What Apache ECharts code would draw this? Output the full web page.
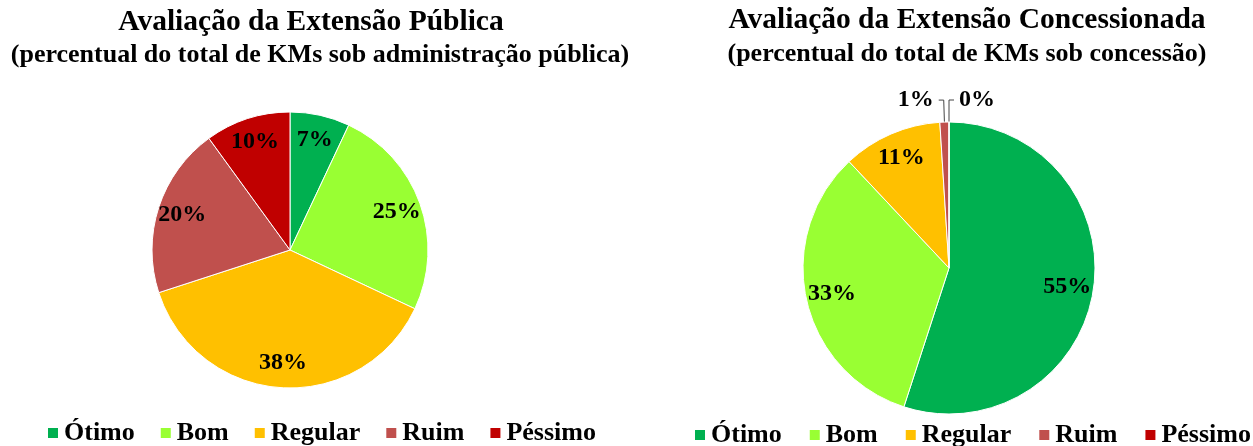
<!DOCTYPE html>
<html>
<head>
<meta charset="utf-8">
<title>Avaliação da Extensão</title>
<script src="https://cdn.jsdelivr.net/npm/echarts@6/dist/echarts.min.js"></script>
<style>
  html, body { margin: 0; padding: 0; background: #fff; }
  #chart { width: 1253px; height: 446px; }
</style>
</head>
<body>
<div id="chart"></div>
<script>
// categorias e valores (percentual)
var categories = ['Ótimo', 'Bom', 'Regular', 'Ruim', 'Péssimo'];
var colors = ['#00B050', '#99FF33', '#FFC000', '#C0504D', '#C00000'];
var publicaValues = [7, 25, 38, 20, 10];
var concessaoValues = [55, 33, 11, 1, 0];

var FONT = 'Liberation Serif';

function pct(p){
  return Math.round(p.value) + '%';
}

// fatia principal (cor) - rótulos fora só nas fatias pequenas
function mainSeries(values, center, radius){
  return {
    type: 'pie',
    center: center,
    radius: [0, radius],
    startAngle: 90,
    clockwise: true,
    avoidLabelOverlap: false,
    itemStyle: { borderColor: '#fff', borderWidth: 1 },
    emphasis: { disabled: true },
    label: { show: false },
    labelLine: { show: false },
    // fatia zero fica no topo: joga o rótulo para a direita (espelha no centro)
    labelLayout: function(p){
      if(values[p.dataIndex] !== 0 || !p.labelLinePoints) return {};
      var cx = center[0];
      var pts = p.labelLinePoints.map(function(q){ return [2 * cx - q[0], q[1]]; });
      return {
        x: 2 * cx - (p.labelRect.x + p.labelRect.width),
        y: p.labelRect.y + p.labelRect.height / 2,
        align: 'left',
        verticalAlign: 'middle',
        labelLinePoints: pts
      };
    },
    data: values.map(function(v, i){
      var item = { name: categories[i], value: v, itemStyle: { color: colors[i] } };
      if(v < 3){
        item.label = {
          show: true, position: 'outside', formatter: pct,
          fontFamily: FONT, fontWeight: 'bold', fontSize: 24, color: '#000'
        };
        item.labelLine = { show: true, length: 22, length2: 5, lineStyle: { color: '#444', width: 1 } };
      }
      return item;
    })
  };
}

// anel transparente só para posicionar os rótulos internos a ~80% do raio
function labelSeries(values, center, radius){
  return {
    type: 'pie',
    center: center,
    radius: [radius * 0.6, radius],
    startAngle: 90,
    clockwise: true,
    silent: true,
    avoidLabelOverlap: false,
    itemStyle: { color: 'transparent' },
    label: {
      show: true, position: 'inside', formatter: pct,
      fontFamily: FONT, fontWeight: 'bold', fontSize: 24, color: '#000'
    },
    labelLine: { show: false },
    data: values.map(function(v, i){
      var item = { name: categories[i], value: v };
      if(v < 3){
        item.label = { show: false };
      }
      return item;
    })
  };
}

var chart = echarts.init(document.getElementById('chart'));

var titleStyle = { fontFamily: FONT, fontWeight: 'bold', fontSize: 29.5, color: '#000' };
var subStyle = { fontFamily: FONT, fontWeight: 'bold', fontSize: 26, color: '#000' };
var legendText = { fontFamily: FONT, fontWeight: 'bold', fontSize: 26, color: '#000' };

chart.setOption({
  animation: false,
  title: [{
    text: 'Avaliação da Extensão Pública',
    left: 311, top: 7, textAlign: 'center', padding: 0,
    textStyle: titleStyle
  }, {
    text: '(percentual do total de KMs sob administração pública)',
    left: 320, top: 42, textAlign: 'center', padding: 0,
    textStyle: subStyle
  }, {
    text: 'Avaliação da Extensão Concessionada',
    left: 967, top: 5, textAlign: 'center', padding: 0,
    textStyle: titleStyle
  }, {
    text: '(percentual do total de KMs sob concessão)',
    left: 967, top: 41, textAlign: 'center', padding: 0,
    textStyle: subStyle
  }],
  legend: [{
    data: categories,
    left: 46, top: 420,
    padding: 0,
    icon: 'rect',
    itemWidth: 12, itemHeight: 12, itemGap: 24,
    selectedMode: false,
    textStyle: legendText
  }, {
    data: categories,
    left: 693, top: 422,
    padding: 0,
    icon: 'rect',
    itemWidth: 12, itemHeight: 12, itemGap: 26,
    selectedMode: false,
    textStyle: legendText
  }],
  series: [
    mainSeries(publicaValues, [290, 250], 138),
    mainSeries(concessaoValues, [949, 268], 146),
    labelSeries(publicaValues, [290, 250], 138),
    labelSeries(concessaoValues, [949, 268], 146)
  ]
});
</script>
</body>
</html>
